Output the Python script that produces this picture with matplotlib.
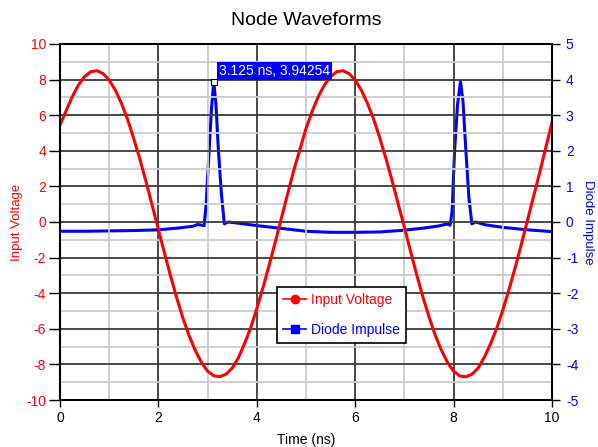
import matplotlib
matplotlib.use("Agg")
import matplotlib.pyplot as plt
from matplotlib.ticker import MultipleLocator

plt.rcParams['font.family'] = ['Liberation Sans', 'DejaVu Sans']
plt.rcParams['axes.unicode_minus'] = False

title = "Node Waveforms"
xlabel = "Time (ns)"
left_label = "Input Voltage"
right_label = "Diode Impulse"

# Input Voltage (left axis), sampled every 0.125 ns
vt = [i * 0.125 for i in range(81)]
vv = [5.45, 6.25, 7.05, 7.7, 8.17, 8.44, 8.5, 8.34, 7.97, 7.41, 6.66, 5.75, 4.68, 3.51, 2.25, 0.92,
      -0.42, -1.76, -3.06, -4.29, -5.41, -6.4, -7.22, -7.89, -8.38, -8.64, -8.69, -8.55, -8.21,
      -7.63, -6.84, -5.95, -4.87, -3.69, -2.44, -1.13, 0.22, 1.56, 2.89, 4.06, 5.25,
      6.22, 7.05, 7.7, 8.17, 8.44, 8.5, 8.34, 7.97, 7.41, 6.66, 5.78, 4.72, 3.56, 2.32, 1.0,
      -0.3, -1.65, -2.96, -4.2, -5.33, -6.35, -7.19, -7.88, -8.38, -8.65, -8.7, -8.55, -8.2,
      -7.6, -6.85, -5.98, -4.95, -3.8, -2.58, -1.27, 0.08, 1.43, 2.78, 4.2, 5.6]

# Diode Impulse (right axis)
it = [0.0, 0.5, 1.0, 1.5, 2.0, 2.4, 2.7, 2.8, 2.88, 2.93, 2.97, 3.03, 3.08, 3.125, 3.17, 3.22,
      3.28, 3.34, 3.42, 3.6, 4.0, 4.5, 5.0, 5.5, 6.0, 6.5, 7.0, 7.4, 7.7, 7.82, 7.89, 7.93, 7.97,
      8.02, 8.08, 8.14, 8.19, 8.25, 8.31, 8.37, 8.45, 8.65, 9.0, 9.5, 10.0]
iv = [-0.26, -0.26, -0.25, -0.24, -0.22, -0.17, -0.12, -0.07, -0.09, -0.1, 0.5, 2.0, 3.2, 3.94254,
      3.3, 2.0, 0.8, -0.05, 0.0, -0.03, -0.1, -0.18, -0.26, -0.29, -0.29, -0.28, -0.23, -0.17,
      -0.11, -0.07, -0.06, -0.09, 0.3, 2.0, 3.3, 3.95, 3.4, 2.0, 0.7, -0.05, 0.0, -0.08, -0.15,
      -0.22, -0.27]

peak_t = 3.125
peak_v = 3.94254
peak_label = "3.125 ns, 3.94254"

fig = plt.figure(figsize=(5.98, 4.47), dpi=100)
ax = fig.add_axes([60/598, 1-400/447, 492/598, 356/447])
ax2 = ax.twinx()

ax.set_xlim(0, 10)
ax.set_ylim(-10, 10)
ax2.set_ylim(-5, 5)

ax.xaxis.set_major_locator(MultipleLocator(2))
ax.xaxis.set_minor_locator(MultipleLocator(1))
ax.yaxis.set_major_locator(MultipleLocator(2))
ax.yaxis.set_minor_locator(MultipleLocator(1))
ax2.yaxis.set_major_locator(MultipleLocator(1))

ax.grid(which='major', color='#3a3a3a', linewidth=1.3)
ax.grid(which='minor', color='#cccccc', linewidth=1.3)
ax.set_axisbelow(True)

ax2.plot(it, iv, color='#0000ff', lw=2.2, label=right_label)
ax.plot(vt, vv, color='#ff0000', lw=2.2, label=left_label)

ax.set_zorder(ax2.get_zorder() + 1)
ax.patch.set_visible(False)

# annotation marker and label
ax.plot([peak_t], [peak_v], transform=ax2.transData, marker='s', ms=4,
        mfc='white', mec='black', mew=0.8, zorder=10, clip_on=False)
ax.annotate(peak_label, xy=(peak_t, peak_v), xycoords=ax2.transData,
            xytext=(3.5, 2.5), textcoords='offset points', ha='left', va='bottom',
            color='white', fontsize=10, zorder=11,
            bbox=dict(boxstyle='square,pad=0.15', fc='#0000ff', ec='none'))

for s in ['left', 'bottom', 'right', 'top']:
    ax.spines[s].set_color('black')
    ax.spines[s].set_linewidth(1.5)
    ax2.spines[s].set_visible(False)

ax.tick_params(axis='x', which='major', length=5, width=1, direction='out',
               labelsize=10, pad=3, colors='black')
ax.tick_params(axis='x', which='minor', length=0)
ax.tick_params(axis='y', which='major', length=8, width=1, direction='out',
               labelcolor='#ff0000', labelsize=10, color='black', pad=2)
ax.tick_params(axis='y', which='minor', length=0)
ax2.tick_params(axis='y', which='major', length=6, width=1, direction='out',
                labelcolor='#0000ff', labelsize=10, color='black', pad=4)

ax.set_title(title, fontsize=14, pad=14)
ax.set_xlabel(xlabel, fontsize=10, labelpad=6)
ax.set_ylabel(left_label, color='#ff0000', fontsize=9.5, labelpad=2)
ax2.set_ylabel(right_label, color='#0000ff', fontsize=9.5, rotation=270, labelpad=11)

# legend
h1, = ax.plot([], [], color='#ff0000', lw=1.2, marker='o', ms=6)
h2, = ax.plot([], [], color='#0000ff', lw=1.2, marker='s', ms=6)
leg = ax.legend([h1, h2], [left_label, right_label], loc='lower left',
                bbox_to_anchor=(0.441, 0.16), borderaxespad=0,
                fontsize=10, frameon=True,
                fancybox=False, edgecolor='black', framealpha=1,
                handlelength=1.7, handletextpad=0.35, labelspacing=1.2,
                borderpad=0.42)
leg.get_frame().set_linewidth(1.2)
for txt, c in zip(leg.get_texts(), ['#ff0000', '#0000ff']):
    txt.set_color(c)

fig.savefig("out.png", dpi=100)
